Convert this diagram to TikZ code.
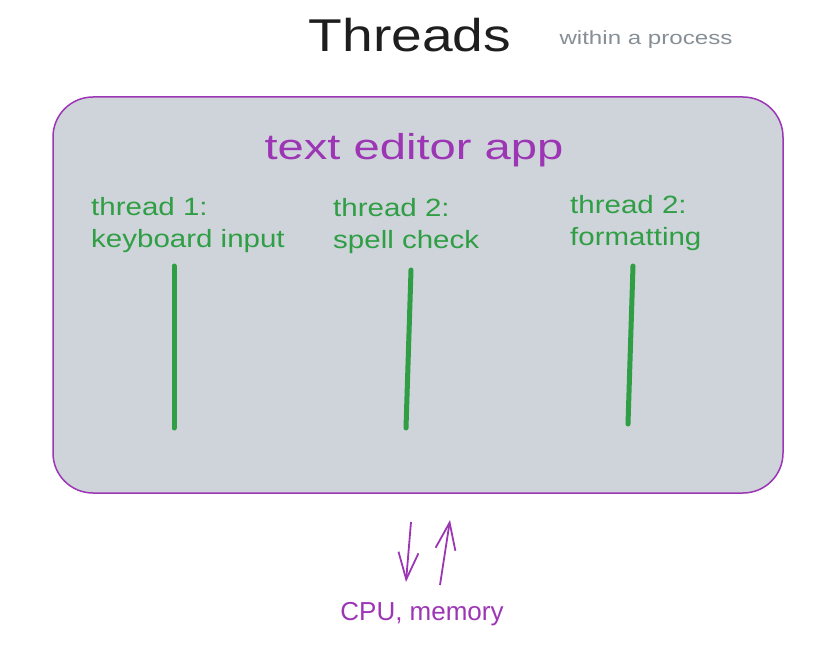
\documentclass[tikz,border=0pt]{standalone}
\usepackage{fontspec}
\setmainfont{Liberation Sans}
\usetikzlibrary{arrows.meta}
\definecolor{appPurple}{HTML}{9C36B5}
\definecolor{thrGreen}{HTML}{2F9E44}
\definecolor{boxGray}{HTML}{CED4DA}
\definecolor{noteGray}{HTML}{868E96}
\definecolor{inkBlack}{HTML}{1E1E1E}
\tikzset{
  thrlabel/.style={text=thrGreen,anchor=north west,align=left,inner sep=0pt,font=\fontsize{25}{32}\selectfont\addfontfeatures{FakeStretch=1.18}},
  thrline/.style={draw=thrGreen,line width=5pt,line cap=round},
  flow/.style={draw=appPurple,line width=1.8pt,-{Straight Barb[length=27pt,width=20pt]}}
}
\begin{document}
\begin{tikzpicture}[x=1pt,y=-1pt]
\useasboundingbox (0,0) rectangle (830,652);
\node[text=inkBlack,font=\fontsize{46}{50}\selectfont\addfontfeatures{FakeStretch=1.2}](T) at (410,35){Threads};
\node[text=noteGray,font=\fontsize{19}{22}\selectfont\addfontfeatures{FakeStretch=1.27}](WP) at (646,40){within a process};
\node[fill=boxGray,draw=appPurple,line width=1.5pt,rounded corners=40pt,shape=rectangle,minimum width=730pt,minimum height=396pt](APP) at (418,295){};
\node[text=appPurple,font=\fontsize{36}{40}\selectfont\addfontfeatures{FakeStretch=1.31}](AT) at (414,150){text editor app};
\node[thrlabel](L1) at (91,197){thread 1:\\keyboard input};
\node[thrlabel](L2) at (333,198){thread 2:\\spell check};
\node[thrlabel](L3) at (570,195){thread 2:\\formatting};
% thread lines
\coordinate (A1) at (174,266); \coordinate (B1) at (174,428);
\coordinate (A2) at (411,270); \coordinate (B2) at (406,428);
\coordinate (A3) at (633,266); \coordinate (B3) at (628,424);
\draw[thrline] (A1) -- (B1);
\draw[thrline] (A2) -- (B2);
\draw[thrline] (A3) -- (B3);
% in and out
\node[text=appPurple,font=\fontsize{26}{30}\selectfont](CPU) at (422,614){CPU, memory};
\coordinate (D1) at (411,522); \coordinate (D2) at (406,582);
\coordinate (U1) at (440,585); \coordinate (U2) at (450,520);
\draw[flow] (D1) -- (D2);
\draw[flow] (U1) -- (U2);
\end{tikzpicture}
\end{document}
